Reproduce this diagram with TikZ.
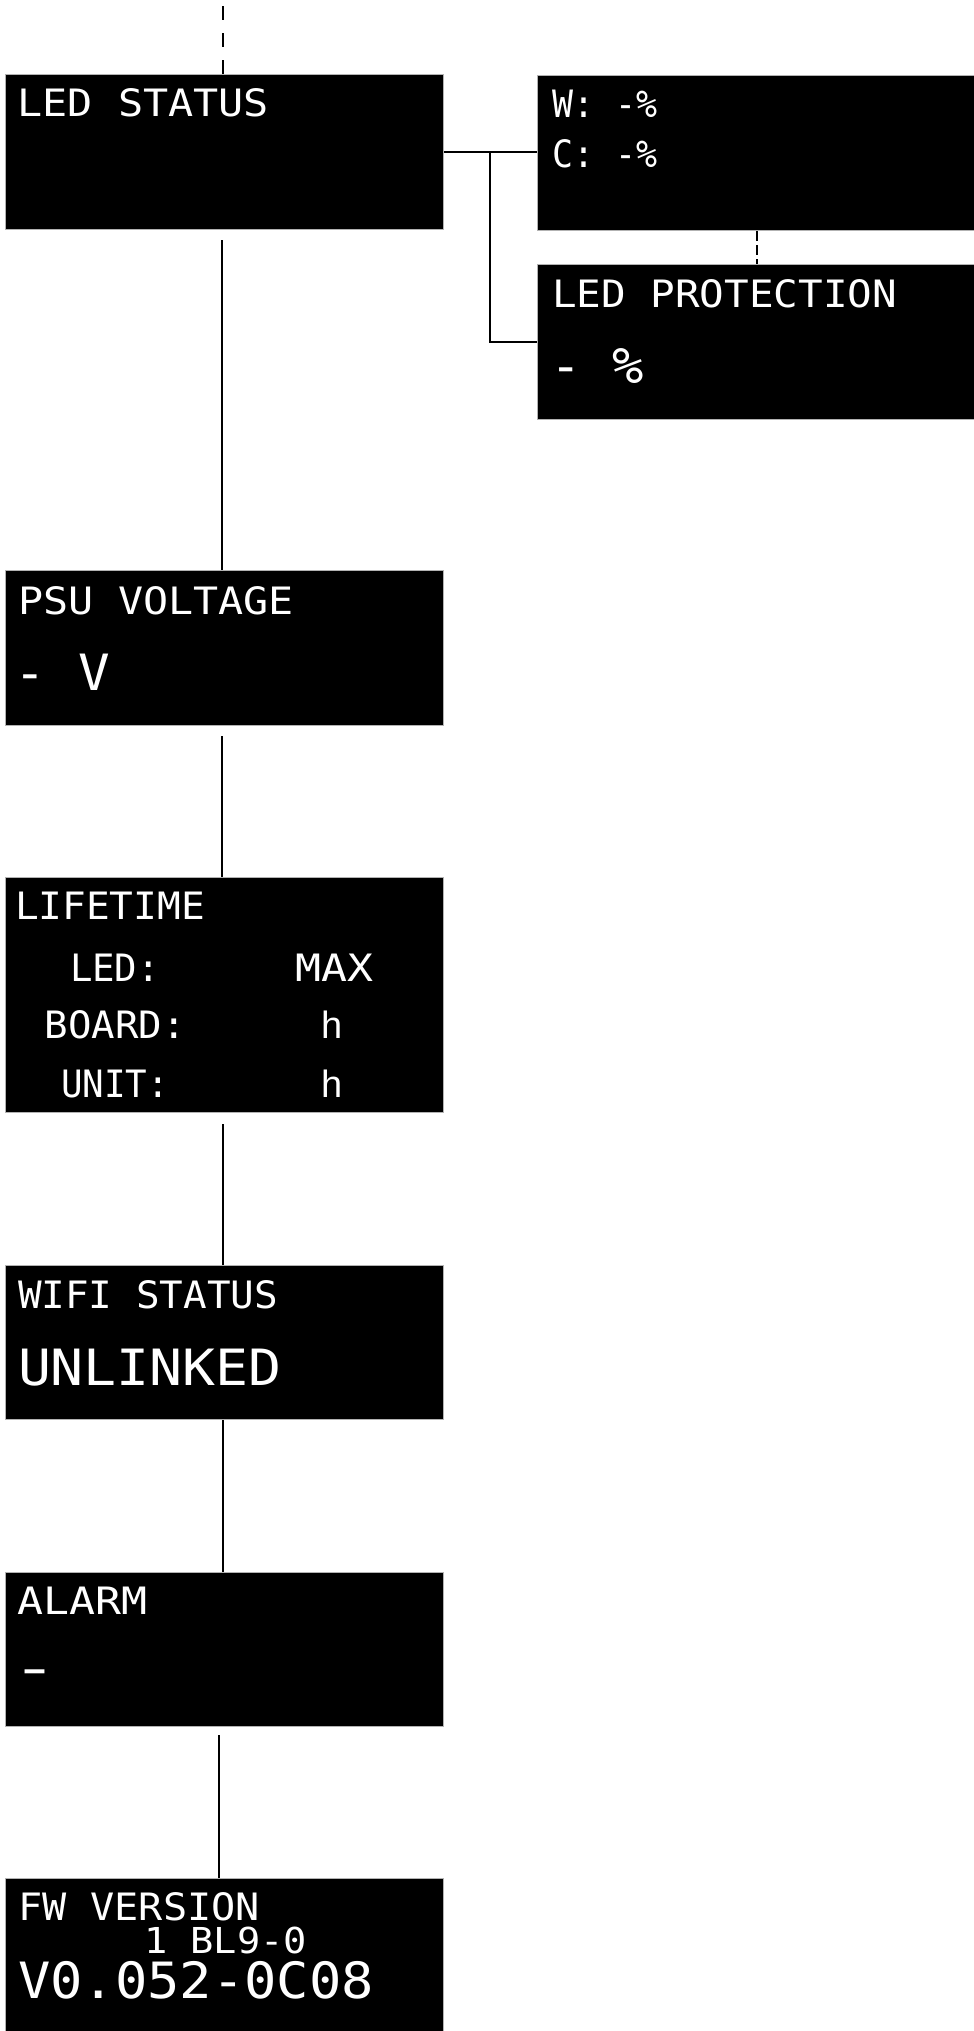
\documentclass[tikz,border=0pt]{standalone}
\usepackage{fontspec}
\usepackage{graphicx}
\newfontfamily\dm{DejaVu Sans Mono}
\newfontfamily\arialf{Liberation Sans}
\newcommand\dmt[3]{{\dm\fontsize{#1pt}{#1pt}\selectfont\resizebox{#2pt}{\height}{#3}}}
\begin{document}
\begin{tikzpicture}[x=1pt,y=-1pt,
  screen/.style={draw=gray!60, line width=1pt, fill=black, anchor=north west, inner sep=0pt},
  txt/.style={anchor=base west, inner sep=0pt, outer sep=0pt, text=white},
  conn/.style={line width=2pt, black},
  dconn/.style={conn, line width=2.6pt, dash pattern=on 14pt off 13pt},
  dconnb/.style={conn, line width=2.4pt, dash pattern=on 10pt off 4pt}]
\useasboundingbox (0,0) rectangle (974,2031);

% screens
\node[screen, minimum width=438pt, minimum height=155pt] (led) at (5,74) {};
\node[screen, minimum width=439pt, minimum height=155pt] (wc) at (537,75) {};
\node[screen, minimum width=439pt, minimum height=155pt] (prot) at (537,264) {};
\node[screen, minimum width=438pt, minimum height=155pt] (psu) at (5,570) {};
\node[screen, minimum width=438pt, minimum height=235pt] (life) at (5,877) {};
\node[screen, minimum width=438pt, minimum height=154pt] (wifi) at (5,1265) {};
\node[screen, minimum width=438pt, minimum height=154pt] (alarm) at (5,1572) {};
\node[screen, minimum width=438pt, minimum height=156pt] (fw) at (5,1878) {};

% texts
\node[txt] (t1) at (17.5,117) {\dmt{37.7}{251.5}{LED STATUS}};
\node[txt] (t2) at (552,118) {\dmt{37.7}{105}{W: -\%}};
\node[txt] (t3) at (552,167) {\dmt{37.7}{105}{C: -\%}};
\node[txt] (t4) at (552,307) {\dmt{37.7}{345}{LED PROTECTION}};
\node[txt] (t5) at (550,383) {\dmt{50}{94}{- \%}};
\node[txt] (t6) at (18,614) {\dmt{37.7}{276}{PSU VOLTAGE}};
\node[txt] (t7) at (15,690) {\dmt{50}{95}{- V}};
\node[txt] (t8) at (15,919) {\dmt{37.7}{190}{LIFETIME}};
\node[txt] (t9) at (70,981) {\dmt{37.7}{90}{LED:}};
\node[txt] (t10) at (295,981) {\dmt{37.7}{78}{MAX}};
\node[txt] (t11) at (45,1038) {\dmt{37.7}{141}{BOARD:}};
\node[txt] (t12) at (321.5,1038) {\arialf\fontsize{38pt}{38pt}\selectfont h};
\node[txt] (t13) at (61,1097) {\dmt{37.7}{108}{UNIT:}};
\node[txt] (t14) at (321.5,1097) {\arialf\fontsize{38pt}{38pt}\selectfont h};
\node[txt] (t15) at (18,1308) {\dmt{37.7}{260}{WIFI STATUS}};
\node[txt] (t16) at (18,1385) {\dmt{50}{264}{UNLINKED}};
\node[txt] (t17) at (18,1614) {\dmt{37.7}{130}{ALARM}};
\node[txt] (t18) at (11.5,1685) {\dmt{50}{47}{-}};
\node[txt] (t19) at (18,1920) {\dmt{37.7}{242}{FW VERSION}};
\node[txt] (t20) at (144,1953) {\dmt{35.7}{163}{1 BL9-0}};
\node[txt] (t21) at (18,1998) {\dmt{50}{356}{V0.052-0C08}};

% connectors
\coordinate (top) at (223,0);
\draw[dconn] (led.north -| top) -- (top);
\draw[conn] (led.east) -- (led.east -| wc.west);
\path (led.east) ++(46,0) coordinate (br);
\draw[conn] (br) |- (prot.west);
\draw[dconnb] (wc.south) -- (prot.north);
\draw[conn] ([xshift=-3pt,yshift=-10pt]led.south) -- ([xshift=-3pt]psu.north);
\draw[conn] ([xshift=-3pt,yshift=-10pt]psu.south) -- ([xshift=-3pt]life.north);
\draw[conn] ([xshift=-2pt,yshift=-11pt]life.south) -- ([xshift=-2pt]wifi.north);
\draw[conn] ([xshift=-2pt]wifi.south) -- ([xshift=-2pt]alarm.north);
\draw[conn] ([xshift=-6pt,yshift=-8pt]alarm.south) -- ([xshift=-6pt]fw.north);
\end{tikzpicture}
\end{document}
